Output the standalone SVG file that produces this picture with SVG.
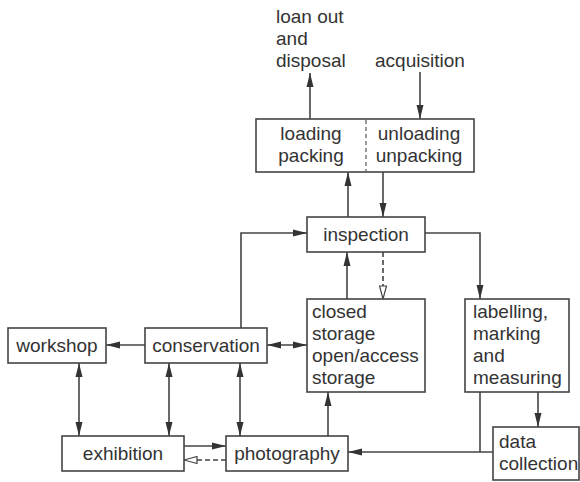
<svg xmlns="http://www.w3.org/2000/svg" width="580" height="482" viewBox="0 0 580 482">
  <style>
    text { font-family: "Liberation Sans", Arial, sans-serif; font-size: 19px; fill: #333; }
    .c { text-anchor: middle; }
    .box { fill: #fff; stroke: #444; stroke-width: 1.6; }
    .ln { fill: none; stroke: #444; stroke-width: 1.6; }
    .ar { marker-end: url(#fill); }
    .bi { marker-start: url(#fillS); marker-end: url(#fill); }
    .dash { stroke-dasharray: 5 3; marker-end: url(#open); }
  </style>
  <defs>
    <marker id="fill" viewBox="0 0 14 8" refX="14" refY="4" markerWidth="14" markerHeight="8" markerUnits="userSpaceOnUse" orient="auto">
      <path d="M0,0.5 L14,4 L0,7.5 Z" fill="#333"/>
    </marker>
    <marker id="fillS" viewBox="0 0 14 8" refX="0" refY="4" markerWidth="14" markerHeight="8" markerUnits="userSpaceOnUse" orient="auto">
      <path d="M14,0.5 L0,4 L14,7.5 Z" fill="#333"/>
    </marker>
    <marker id="open" viewBox="0 0 15 9" refX="14" refY="4.5" markerWidth="15" markerHeight="9" markerUnits="userSpaceOnUse" orient="auto">
      <path d="M1,1 L14,4.5 L1,8 Z" fill="#fff" stroke="#444" stroke-width="1.2"/>
    </marker>
  </defs>

  <!-- free labels -->
  <g id="loan-out">
    <text x="276" y="23">loan out</text>
    <text x="276" y="45">and</text>
    <text x="276" y="67">disposal</text>
  </g>
  <g id="acquisition">
    <text x="375" y="67">acquisition</text>
  </g>

  <!-- connectors -->
  <g id="connectors">
    <line class="ln ar" x1="310" y1="119" x2="310" y2="73"/>
    <line class="ln ar" x1="420" y1="72" x2="420" y2="119"/>
    <line class="ln ar" x1="348" y1="217" x2="348" y2="172"/>
    <line class="ln ar" x1="383" y1="172" x2="383" y2="217"/>
    <polyline class="ln ar" points="241,328 241,233 307,233"/>
    <polyline class="ln ar" points="425,233 480,233 480,299"/>
    <line class="ln ar" x1="347" y1="299" x2="347" y2="252"/>
    <line class="ln dash" x1="383" y1="252" x2="383" y2="299"/>
    <line class="ln bi" x1="267" y1="345" x2="307" y2="345"/>
    <line class="ln ar" x1="145" y1="345" x2="106" y2="345"/>
    <line class="ln bi" x1="79" y1="363" x2="79" y2="436"/>
    <line class="ln bi" x1="169" y1="363" x2="169" y2="436"/>
    <line class="ln bi" x1="240" y1="363" x2="240" y2="436"/>
    <line class="ln ar" x1="184" y1="446" x2="226" y2="446"/>
    <line class="ln dash" x1="226" y1="460" x2="184" y2="460"/>
    <line class="ln ar" x1="328" y1="436" x2="328" y2="392"/>
    <line class="ln ar" x1="538" y1="392" x2="538" y2="427"/>
    <polyline class="ln" points="480,392 480,452"/>
    <line class="ln ar" x1="493" y1="452" x2="348" y2="452"/>
  </g>

  <!-- nodes -->
  <g id="loading">
    <rect class="box" x="256" y="119" width="218" height="53"/>
    <line x1="366" y1="120" x2="366" y2="171" stroke="#666" stroke-width="1.3" stroke-dasharray="4 3"/>
    <text class="c" x="311" y="140">loading</text>
    <text class="c" x="311" y="162">packing</text>
    <text class="c" x="419" y="140">unloading</text>
    <text class="c" x="419" y="162">unpacking</text>
  </g>
  <g id="inspection">
    <rect class="box" x="307" y="217" width="118" height="35"/>
    <text class="c" x="366" y="241">inspection</text>
  </g>
  <g id="storage">
    <rect class="box" x="307" y="299" width="118" height="93"/>
    <text x="312" y="318">closed</text>
    <text x="312" y="340">storage</text>
    <text x="312" y="362">open/access</text>
    <text x="312" y="384">storage</text>
  </g>
  <g id="labelling">
    <rect class="box" x="465" y="299" width="104" height="93"/>
    <text x="473" y="318">labelling,</text>
    <text x="473" y="340">marking</text>
    <text x="473" y="362">and</text>
    <text x="473" y="384">measuring</text>
  </g>
  <g id="workshop">
    <rect class="box" x="8" y="328" width="98" height="35"/>
    <text class="c" x="57" y="352">workshop</text>
  </g>
  <g id="conservation">
    <rect class="box" x="145" y="328" width="122" height="35"/>
    <text class="c" x="206" y="352">conservation</text>
  </g>
  <g id="exhibition">
    <rect class="box" x="62" y="436" width="122" height="35"/>
    <text class="c" x="123" y="460">exhibition</text>
  </g>
  <g id="photography">
    <rect class="box" x="226" y="436" width="122" height="35"/>
    <text class="c" x="287" y="460">photography</text>
  </g>
  <g id="data-collection">
    <rect class="box" x="493" y="427" width="86" height="53"/>
    <text x="499" y="448">data</text>
    <text x="499" y="470">collection</text>
  </g>
</svg>
